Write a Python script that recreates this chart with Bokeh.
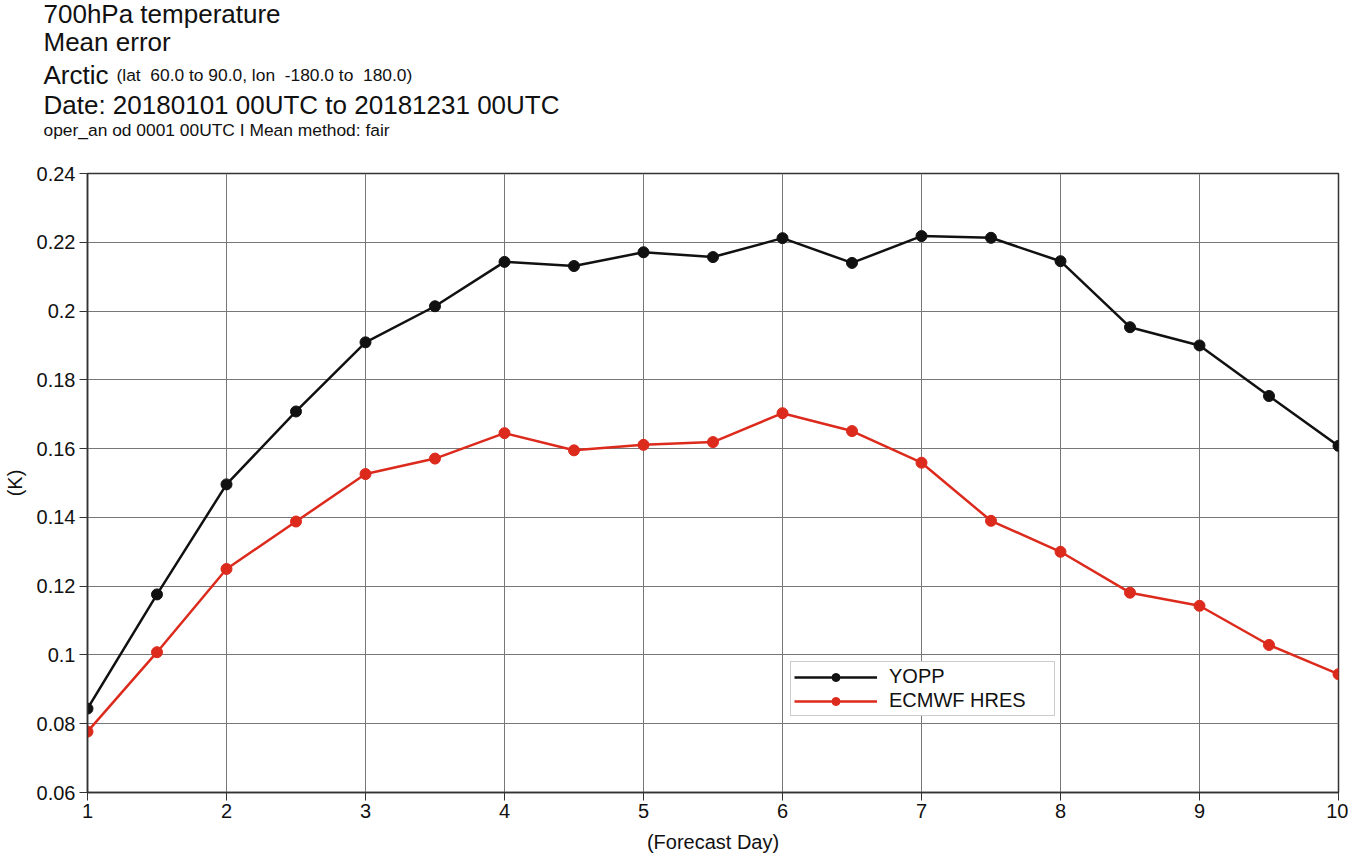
from bokeh.plotting import figure
from bokeh.layouts import column
from bokeh.models import Label, Legend, LegendItem, FixedTicker, CustomJSTickFormatter, Range1d
from bokeh.embed import file_html
from bokeh.resources import INLINE

days = [1, 1.5, 2, 2.5, 3, 3.5, 4, 4.5, 5, 5.5, 6, 6.5, 7, 7.5, 8, 8.5, 9, 9.5, 10]
yopp = [0.0844, 0.1176, 0.1496, 0.1708, 0.1909, 0.2014, 0.2143, 0.2131, 0.2171, 0.2157,
        0.2212, 0.2140, 0.2218, 0.2213, 0.2145, 0.1953, 0.1900, 0.1753, 0.1608]
hres = [0.0777, 0.1008, 0.1250, 0.1388, 0.1526, 0.1571, 0.1645, 0.1595, 0.1611, 0.1619,
        0.1703, 0.1651, 0.1559, 0.1390, 0.1300, 0.1181, 0.1143, 0.1029, 0.0944]
x_ticks = [1, 2, 3, 4, 5, 6, 7, 8, 9, 10]
y_ticks = [0.06, 0.08, 0.10, 0.12, 0.14, 0.16, 0.18, 0.20, 0.22, 0.24]

FONT = "Liberation Sans"
BLACK = "#111111"
RED = "#dc2a1c"
W = 1348
HEAD_H = 155
NB = "\u00a0"

# ---- header with the title lines ----
head = figure(width=W, height=HEAD_H, output_backend="svg", toolbar_location=None,
              x_range=Range1d(0, 1), y_range=Range1d(0, 1),
              min_border=0, min_border_left=0, min_border_right=0,
              min_border_top=0, min_border_bottom=0)
head.frame_align = False
head.axis.visible = False
head.grid.visible = False
head.outline_line_color = None

def lab(text, x, baseline, size):
    head.add_layout(Label(x=x, y=HEAD_H - baseline, x_units="screen", y_units="screen",
                          text=text, text_font=FONT, text_font_size=size,
                          text_color="#111111", text_baseline="alphabetic",
                          text_align="left"))

lab("700hPa temperature", 43, 13, "26px")
lab("Mean error", 43, 41, "26px")
lab("Arctic", 43, 74, "26px")
lab("(lat " + NB + "60.0 to 90.0, lon " + NB + "-180.0 to " + NB + "180.0)", 116, 74, "17.4px")
lab("Date: 20180101 00UTC to 20181231 00UTC", 43, 104, "26px")
lab("oper_an od 0001 00UTC I Mean method: fair", 43, 129, "17.4px")

# ---- main chart ----
p = figure(width=W, height=700, output_backend="svg", toolbar_location=None,
           x_range=Range1d(1, 10), y_range=Range1d(0.06, 0.24),
           min_border_left=87, min_border_right=10, min_border_top=18, min_border_bottom=63)
p.frame_align = False
p.background_fill_color = "white"
p.outline_line_color = "#333333"
p.outline_line_width = 1.5

for ax in (p.xaxis[0], p.yaxis[0]):
    ax.axis_line_color = "#333333"
    ax.axis_line_width = 1.5
    ax.major_tick_line_color = "#333333"
    ax.major_tick_out = 8
    ax.major_tick_in = 0
    ax.minor_tick_line_color = None
    ax.major_label_text_font = FONT
    ax.major_label_text_font_size = "20px"
    ax.major_label_text_color = "#111111"
    ax.axis_label_text_font = FONT
    ax.axis_label_text_font_size = "20px"
    ax.axis_label_text_font_style = "normal"
    ax.axis_label_text_color = "#111111"

p.xaxis[0].ticker = FixedTicker(ticks=x_ticks)
p.yaxis[0].ticker = FixedTicker(ticks=y_ticks)
p.yaxis[0].formatter = CustomJSTickFormatter(code="return tick.toFixed(2).replace(/0+$/, '');")
p.xaxis[0].axis_label = "(Forecast Day)"
p.yaxis[0].axis_label = "(K)"
p.xaxis[0].major_label_standoff = 3
p.xaxis[0].axis_label_standoff = 10
p.yaxis[0].major_label_standoff = 4
p.yaxis[0].axis_label_standoff = 8

p.grid.grid_line_color = "#777777"
p.grid.grid_line_width = 1

l1 = p.line(days, yopp, line_color=BLACK, line_width=2.5)
c1 = p.scatter(days, yopp, size=11, fill_color=BLACK, line_color=BLACK)
l2 = p.line(days, hres, line_color=RED, line_width=2.5)
c2 = p.scatter(days, hres, size=11, fill_color=RED, line_color=RED)

legend = Legend(items=[LegendItem(label="YOPP", renderers=[l1, c1]),
                       LegendItem(label="ECMWF HRES", renderers=[l2, c2])],
                location=(703, 76), label_text_font=FONT, label_text_font_size="20px",
                label_text_color="#111111",
                glyph_width=83, glyph_height=20, label_height=20, label_width=162,
                label_standoff=12, spacing=1, padding=3, margin=0,
                border_line_color="#999999", border_line_width=1.5,
                background_fill_color="white", background_fill_alpha=1.0)
p.add_layout(legend, "center")

layout = column(head, p, spacing=0)
open("out.html", "w").write(file_html(layout, INLINE))
